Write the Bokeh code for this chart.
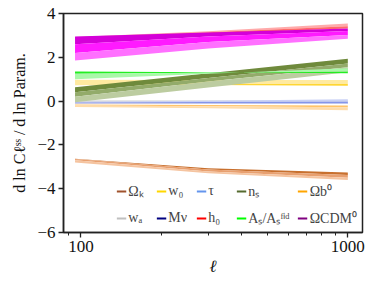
from bokeh.plotting import figure
from bokeh.models import Range1d, FixedTicker, Legend, LegendItem
from bokeh.embed import file_html
from bokeh.resources import INLINE

# ---- data ----
ell = [95, 300, 1000]

omk_curves = [[-2.63, -3.07, -3.26], [-2.64, -3.12, -3.38], [-2.70, -3.22, -3.50], [-2.80, -3.30, -3.60]]
omk_colors = ["#c8702e", "#e8a070", "#f5c4a0"]

wa_curve = [0.0, 0.0, 0.0]
mnu_curve = [-0.09, -0.09, -0.09]

w0_curves = [[0.72, 0.74, 0.70], [0.72, 0.78, 0.78], [0.97, 0.96, 0.96]]
w0_colors = ["#ffd633", "#ffeaa0"]

tau_curves = [[-0.03, 0.02, 0.08], [-0.05, -0.04, -0.03], [-0.08, -0.09, -0.10], [-0.10, -0.11, -0.13]]
tau_colors = ["#c8d0f5", "#8595ea", "#c4ccf3"]

h0_curves = [[2.93, 3.19, 3.54], [2.90, 3.14, 3.42], [2.85, 3.08, 3.32]]
h0_colors = ["#ffaaaa", "#ff6a6a"]

ns_curves = [[0.63, 1.27, 1.93], [0.40, 1.05, 1.72], [0.20, 0.90, 1.55], [-0.05, 0.62, 1.32]]
ns_colors = ["#6f8a3c", "#93ab6a", "#bccca0"]

as_curves = [[1.35, 1.32, 1.27], [1.25, 1.30, 1.35], [1.00, 1.25, 1.50]]
as_colors = ["#22ee22", "#a8f8a8"]

omb_curves = [[-0.15, -0.18, -0.20], [-0.20, -0.24, -0.28], [-0.27, -0.33, -0.42]]
omb_colors = ["#ffc46a", "#ffdcaa"]

omc_curves = [[2.95, 3.13, 3.32], [2.60, 2.95, 3.20], [2.20, 2.70, 3.02], [1.85, 2.40, 2.85]]
omc_colors = ["#d400d8", "#ff1aff", "#ff70ff"]

legend_labels = ["Ωₖ", "w₀", "τ", "nₛ", "Ωb⁰",
                 "wₐ", "Mν", "h₀", "Aₛ/Aₛᶠⁱᵈ", "ΩCDM⁰"]
legend_colors = ["#a0522d", "#ffd700", "#6495ed", "#556b2f", "#ffa500",
                 "#c0c0c0", "#000080", "#ff0000", "#00ff00", "#800080"]

y_ticks = [-6, -4, -2, 0, 2, 4]
y_tick_labels = ["−6", "−4", "−2", "0", "2", "4"]
x_ticks = [100, 1000]
x_tick_labels = ["100", "1000"]
x_minor = [90, 200, 300, 400, 500, 600, 700, 800, 900]

FONT = "Liberation Serif"

p = figure(width=370, height=282, x_axis_type="log",
           x_range=Range1d(86, 1135), y_range=Range1d(-6, 4),
           output_backend="svg", toolbar_location=None,
           min_border_left=63, min_border_right=8, min_border_top=13, min_border_bottom=50)
p.xgrid.grid_line_color = None
p.ygrid.grid_line_color = None
p.outline_line_color = "#222222"
p.outline_line_width = 1.5
p.outline_line_alpha = 1.0
p.background_fill_color = "white"


def band(curves, colors):
    for i, c in enumerate(colors):
        p.varea(x=ell, y1=curves[i], y2=curves[i + 1], fill_color=c, fill_alpha=1.0)


band(omk_curves, omk_colors)
p.line(ell, wa_curve, line_color="#c0c0c0", line_width=1)
band(w0_curves, w0_colors)
p.line(ell, mnu_curve, line_color="#000080", line_width=1, line_alpha=0.4)
band(tau_curves, tau_colors)
band(h0_curves, h0_colors)
band(ns_curves, ns_colors)
band(as_curves, as_colors)
band(omb_curves, omb_colors)
band(omc_curves, omc_colors)

# legend proxies (hidden lines on each parameter's curve)
legend_curves = [omk_curves[0], w0_curves[0], tau_curves[0], ns_curves[0], omb_curves[0],
                 wa_curve, mnu_curve, h0_curves[0], as_curves[0], omc_curves[0]]
items = []
for lab, col, cur in zip(legend_labels, legend_colors, legend_curves):
    r = p.line(ell, cur, line_color=col, line_width=2.2, visible=False)
    items.append(LegendItem(label=lab, renderers=[r]))

leg = Legend(items=items, location="bottom_right", orientation="horizontal", ncols=5,
             label_text_font=FONT, label_text_font_size="14px",
             glyph_width=10, glyph_height=14, label_height=14,
             label_standoff=2, spacing=8, padding=2, margin=5,
             border_line_color=None, background_fill_alpha=0.0,
             inactive_fill_alpha=0.0)
p.add_layout(leg)

p.yaxis.ticker = FixedTicker(ticks=y_ticks)
p.yaxis.major_label_overrides = dict(zip(y_ticks, y_tick_labels))
p.xaxis.ticker = FixedTicker(ticks=x_ticks, minor_ticks=x_minor)
p.xaxis.major_label_overrides = dict(zip(x_ticks, x_tick_labels))

for ax in (p.xaxis, p.yaxis):
    ax.major_label_text_font = FONT
    ax.major_label_text_font_size = "17px"
    ax.major_label_text_color = "#111111"
    ax.axis_label_text_font = FONT
    ax.axis_label_text_font_size = "16px"
    ax.axis_label_text_font_style = "normal"
    ax.axis_label_text_color = "#111111"
    ax.axis_line_color = "#222222"
    ax.axis_line_width = 1.5
    ax.major_tick_line_color = "#222222"
    ax.major_tick_line_width = 1.3
    ax.major_tick_in = 0
    ax.major_tick_out = 5
    ax.minor_tick_in = 0
    ax.minor_tick_out = 3
    ax.minor_tick_line_color = "#222222"
    ax.major_label_standoff = 3
    ax.axis_label_standoff = 6
p.yaxis.minor_tick_line_color = None

p.xaxis.axis_label = "ℓ"
p.xaxis.axis_label_text_font_style = "italic"
p.xaxis.axis_label_text_font_size = "17px"
p.xaxis.axis_label_standoff = 2
p.yaxis.axis_label = "d ln Cℓˢˢ / d ln Param."

open("out.html", "w").write(file_html(p, INLINE))
